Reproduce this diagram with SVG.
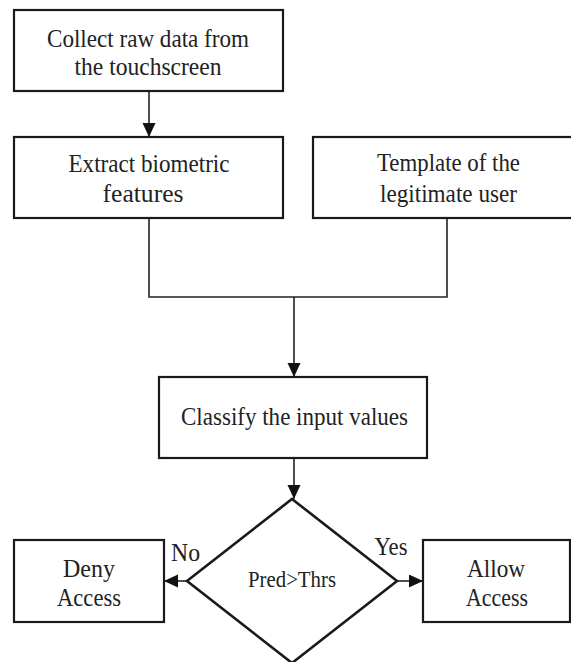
<svg xmlns="http://www.w3.org/2000/svg" width="571" height="662" viewBox="0 0 571 662">
<style>
.box{fill:#fff;stroke:#1a1a1a;stroke-width:2.2}
.dia{fill:#fff;stroke:#1a1a1a;stroke-width:2.6}
.t{font-family:"Liberation Serif","Times New Roman","DejaVu Serif",serif;font-size:26px;fill:#222;text-anchor:middle}
.s{font-size:23px}
.c{fill:none;stroke:#222;stroke-width:1.6}
</style>
<defs>
<marker id="ah" markerUnits="userSpaceOnUse" markerWidth="15" markerHeight="14" refX="14" refY="6.5" orient="auto">
<path d="M0,0 L14,6.5 L0,13 z" fill="#111"/>
</marker>
</defs>
<rect width="571" height="662" fill="#fff"/>
<g id="connectors">
<line class="c" x1="149" y1="91" x2="149" y2="137" marker-end="url(#ah)"/>
<polyline class="c" points="149,218 149,297 447,297 447,218"/>
<line class="c" x1="294" y1="297" x2="294" y2="377" marker-end="url(#ah)"/>
<line class="c" x1="294" y1="458" x2="294" y2="499" marker-end="url(#ah)"/>
<line class="c" x1="187" y1="581" x2="164" y2="581" marker-end="url(#ah)"/>
<line class="c" x1="397" y1="581" x2="423" y2="581" marker-end="url(#ah)"/>
</g>
<g id="collect">
<rect class="box" x="14" y="10" width="269" height="81"/>
<text class="t" x="148" y="47" textLength="202" lengthAdjust="spacingAndGlyphs">Collect raw data from</text>
<text class="t" x="148" y="75" textLength="147" lengthAdjust="spacingAndGlyphs">the touchscreen</text>
</g>
<g id="extract">
<rect class="box" x="14" y="137" width="269" height="81"/>
<text class="t" x="149" y="172" textLength="161" lengthAdjust="spacingAndGlyphs">Extract biometric</text>
<text class="t" x="143" y="202" textLength="81" lengthAdjust="spacingAndGlyphs">features</text>
</g>
<g id="template">
<rect class="box" x="313" y="137" width="270" height="81"/>
<text class="t" x="448.5" y="171" textLength="143" lengthAdjust="spacingAndGlyphs">Template of the</text>
<text class="t" x="448.5" y="202" textLength="137" lengthAdjust="spacingAndGlyphs">legitimate user</text>
</g>
<g id="classify">
<rect class="box" x="159" y="377" width="268" height="81"/>
<text class="t" x="294.5" y="425" textLength="227" lengthAdjust="spacingAndGlyphs">Classify the input values</text>
</g>
<g id="decision">
<polygon class="dia" points="292,499 397,581 292,663 187,581"/>
<text class="t s" x="292" y="587" textLength="88" lengthAdjust="spacingAndGlyphs">Pred&gt;Thrs</text>
<text class="t" x="185.5" y="561" textLength="29" lengthAdjust="spacingAndGlyphs">No</text>
<text class="t" x="391" y="555" textLength="33" lengthAdjust="spacingAndGlyphs">Yes</text>
</g>
<g id="deny">
<rect class="box" x="14" y="540" width="150" height="82"/>
<text class="t" x="89" y="577" textLength="52" lengthAdjust="spacingAndGlyphs">Deny</text>
<text class="t" x="89" y="606" textLength="64" lengthAdjust="spacingAndGlyphs">Access</text>
</g>
<g id="allow">
<rect class="box" x="423" y="540" width="147" height="82"/>
<text class="t" x="496" y="577" textLength="58" lengthAdjust="spacingAndGlyphs">Allow</text>
<text class="t" x="497" y="606" textLength="62" lengthAdjust="spacingAndGlyphs">Access</text>
</g>
</svg>
